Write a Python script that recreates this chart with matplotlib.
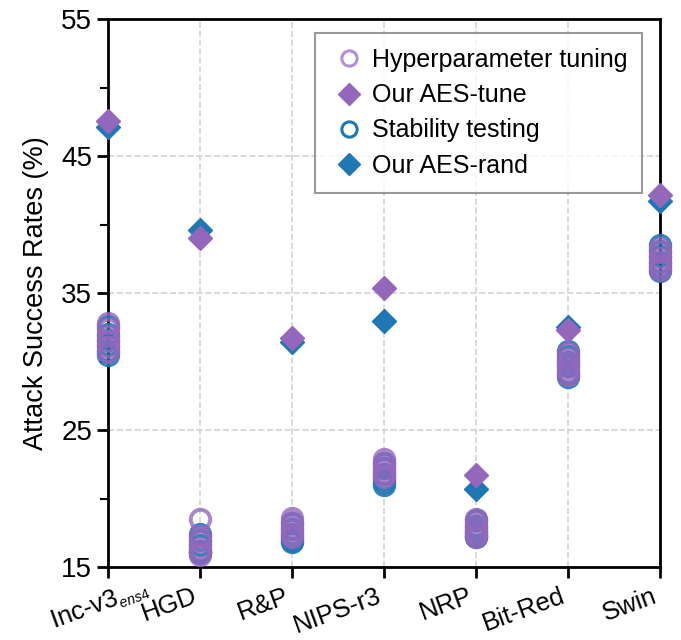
import matplotlib
matplotlib.use("Agg")
import matplotlib.pyplot as plt
import matplotlib._mathtext as mathtext_impl
from matplotlib.lines import Line2D
from matplotlib.transforms import ScaledTranslation

plt.rcParams["font.family"] = ["Liberation Sans", "DejaVu Sans"]
plt.rcParams["mathtext.fontset"] = "custom"
plt.rcParams["mathtext.rm"] = "Liberation Sans"
plt.rcParams["mathtext.it"] = "Liberation Sans:italic"
# smaller subscript, like the source figure
mathtext_impl.SHRINK_FACTOR = 0.55

# ---------- DATA ----------
categories = ["Inc-v3$_{ens4}$", "HGD", "R&P", "NIPS-r3", "NRP", "Bit-Red", "Swin"]

hp_tuning = [
    [32.8, 32.4, 31.9, 31.5, 31.1, 30.7],
    [18.5, 17.3, 16.9, 16.4, 16.1, 15.9],
    [18.6, 18.3, 18.0, 17.7, 17.4, 17.2],
    [22.9, 22.6, 22.3, 22.0, 21.8, 21.6],
    [18.5, 18.2, 17.9, 17.6, 17.4, 17.2],
    [30.6, 30.2, 29.9, 29.6, 29.3, 29.0],
    [38.3, 38.0, 37.6, 37.3, 37.0, 36.7],
]
aes_tune = [47.6, 39.0, 31.7, 35.4, 21.7, 32.3, 42.2]

stability = [
    [32.6, 32.0, 31.6, 31.2, 30.8, 30.5],
    [17.4, 17.0, 16.6, 16.2, 16.0, 16.1],
    [18.2, 17.8, 17.4, 17.1, 16.9, 16.8],
    [22.6, 22.2, 21.8, 21.4, 21.2, 21.0],
    [18.4, 18.0, 17.7, 17.5, 17.3, 17.2],
    [30.8, 30.4, 30.0, 29.7, 29.2, 28.9],
    [38.5, 38.1, 37.7, 37.3, 36.9, 36.6],
]
aes_rand = [47.1, 39.6, 31.4, 33.0, 20.7, 32.5, 41.7]

purple = "#9467bd"
blue = "#1f77b4"

# ---------- PLOT ----------
fig = plt.figure(figsize=(6.81, 6.40), dpi=100)
ax = fig.add_axes([0.1586, 0.114, 0.8106, 0.856])

for i in range(len(categories)):
    ax.plot([i] * len(stability[i]), stability[i], "o", ms=14, mfc="none",
            mec=blue, mew=2.8, alpha=0.9, clip_on=False, zorder=3)
    ax.plot([i] * len(hp_tuning[i]), hp_tuning[i], "o", ms=14, mfc="none",
            mec=purple, mew=2.8, alpha=0.8, clip_on=False, zorder=4)

x = range(len(categories))
ax.plot(x, aes_rand, "D", ms=12, color=blue, ls="none", clip_on=False, zorder=5)
ax.plot(x, aes_tune, "D", ms=12, color=purple, ls="none", clip_on=False, zorder=6)

ax.set_xlim(0, 6)
ax.set_ylim(15, 55)
ax.set_xticks(list(x))
# first label is drawn by hand, a little to the left so it clears "HGD"
ax.set_xticklabels([""] + categories[1:], rotation=20, ha="right", va="top",
                   fontsize=18.5)
ax.text(0, 0, categories[0], rotation=20, ha="center", va="top", fontsize=18.5,
        transform=ax.get_xaxis_transform()
        + ScaledTranslation(-0.08, -0.08, fig.dpi_scale_trans))
ax.set_yticks([15, 25, 35, 45, 55])
ax.set_yticks([20, 30, 40, 50], minor=True)
ax.tick_params(axis="y", labelsize=20, length=8, width=2)
ax.tick_params(axis="y", which="minor", length=6, width=1.5)
ax.tick_params(axis="x", length=8, width=2, pad=4)
ax.set_ylabel("Attack Success Rates (%)", fontsize=19.5, labelpad=9)

for s in ax.spines.values():
    s.set_linewidth(2)

ax.grid(True, ls="--", color="#d3d3d3", lw=1.2)
ax.set_axisbelow(True)

handles = [
    Line2D([], [], marker="o", ls="none", ms=11, mfc="none", mec="#b28fd6", mew=2.2),
    Line2D([], [], marker="D", ls="none", ms=11, color=purple),
    Line2D([], [], marker="o", ls="none", ms=11, mfc="none", mec=blue, mew=2.2),
    Line2D([], [], marker="D", ls="none", ms=11, color=blue),
]
labels = ["Hyperparameter tuning", "Our AES-tune", "Stability testing", "Our AES-rand"]
leg = ax.legend(handles, labels, loc="upper right",
                bbox_to_anchor=(642 / 681, 1 - 33 / 640),
                bbox_transform=fig.transFigure, borderaxespad=0,
                fontsize=18, frameon=True, fancybox=False, edgecolor="#808080",
                handletextpad=0.15, handlelength=1.5, borderpad=0.6,
                labelspacing=0.45)
leg.get_frame().set_linewidth(1.5)

fig.savefig("out.png", dpi=100)
